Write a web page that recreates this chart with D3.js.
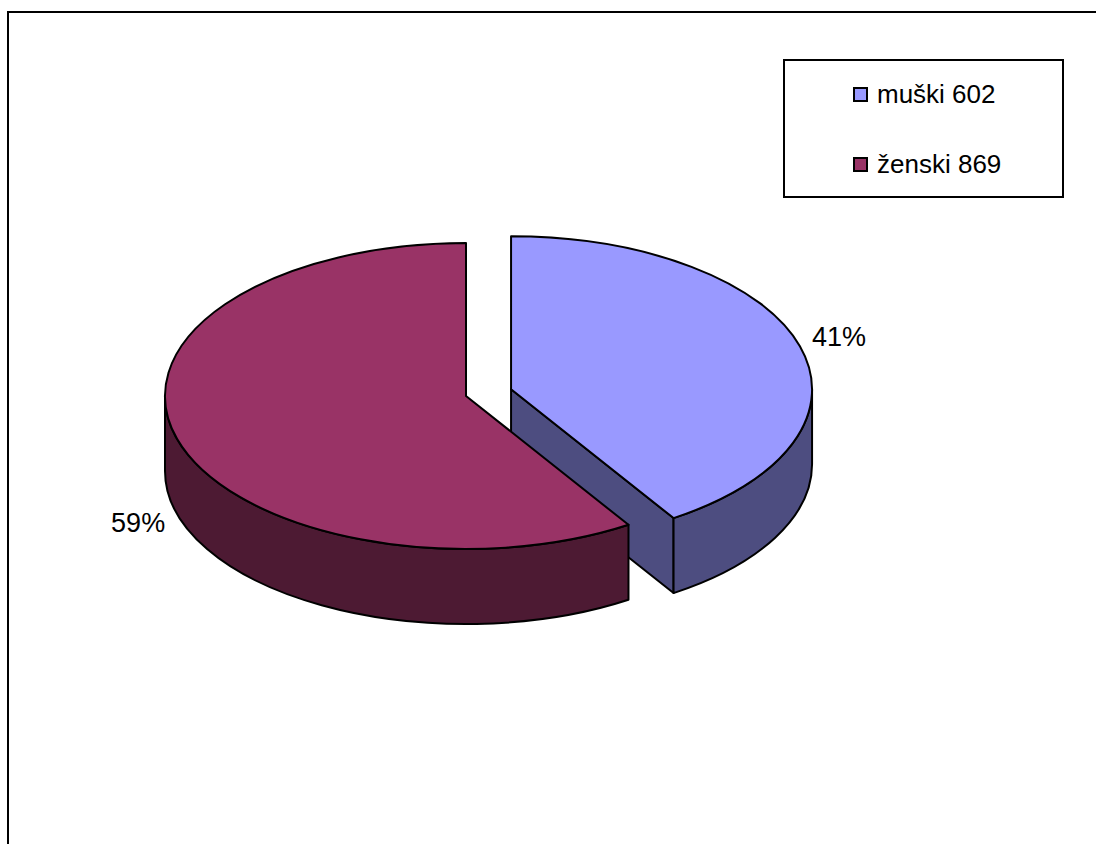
<!DOCTYPE html>
<html lang="hr">
  <head>
    <meta charset="utf-8">
    <title>Pie 3D</title>
    <script src="https://d3js.org/d3.v7.min.js"></script>
    <style type="text/css">
      body {
        margin: 0;
        background: #fff;
      }
      #svg {
        display: block;
      }
      text {
        font-family: "Liberation Sans", Arial, sans-serif;
        fill: #000;
      }
    </style>
  </head>
  <body>
    <div id="chart"></div>
  </body>
</html>
<script type="text/javascript">
  // data
  const labels = ["muški", "ženski"];
  const values = [602, 869];
  const topColors = ["#9999ff", "#993366"];
  const sideColors = ["#4d4d80", "#4d1a33"];
  const exploded = [true, false];

  const width = 1096,
    height = 844;

  // pie geometry (ellipse seen from above at a tilt)
  const cx = 466, cy = 396,
    rx = 301, ry = 153,
    depth = 75,
    explode = 0.156;

  const svg = d3.select("#chart").append("svg")
    .attr("id", "svg")
    .attr("width", width)
    .attr("height", height);

  // outer frame (runs off the page right and bottom)
  svg.append("rect")
    .attr("x", 8).attr("y", 12)
    .attr("width", 1300).attr("height", 1000)
    .attr("fill", "none")
    .attr("stroke", "#000")
    .attr("stroke-width", 2);

  const total = d3.sum(values);
  const pct = d3.format(".0%");

  const pie = d3.pie().sort(null);
  const arcs = pie(values);

  function pt(c, a, dy) {
    return [c[0] + rx * Math.sin(a), c[1] - ry * Math.cos(a) + (dy || 0)];
  }

  // center of each slice, moved out along the mid angle if exploded
  arcs.forEach(function(d, i) {
    const mid = (d.startAngle + d.endAngle) / 2;
    d.mid = mid;
    const k = exploded[i] ? explode : 0;
    d.c = [cx + k * rx * Math.sin(mid), cy - k * ry * Math.cos(mid)];
  });

  function topPath(d) {
    const p0 = pt(d.c, d.startAngle), p1 = pt(d.c, d.endAngle);
    const large = d.endAngle - d.startAngle > Math.PI ? 1 : 0;
    return "M" + d.c + "L" + p0 + "A" + rx + "," + ry + " 0 " + large + " 1 " + p1 + "Z";
  }

  // outer wall, only the front half (angles PI/2 .. 3PI/2) is seen
  function wallPath(d) {
    const b0 = Math.max(d.startAngle, Math.PI / 2),
      b1 = Math.min(d.endAngle, 3 * Math.PI / 2);
    if (b1 <= b0) return null;
    const p0 = pt(d.c, b0), p1 = pt(d.c, b1),
      q1 = pt(d.c, b1, depth), q0 = pt(d.c, b0, depth);
    const large = b1 - b0 > Math.PI ? 1 : 0;
    return "M" + p0 + "A" + rx + "," + ry + " 0 " + large + " 1 " + p1 +
      "L" + q1 + "A" + rx + "," + ry + " 0 " + large + " 0 " + q0 + "Z";
  }

  // cut face at the end angle (faces the viewer when it points down-left)
  function facePath(a, c) {
    const p = pt(c, a);
    return "M" + c + "L" + p + "L" + [p[0], p[1] + depth] + "L" + [c[0], c[1] + depth] + "Z";
  }

  const g = svg.append("g")
    .attr("stroke", "#000")
    .attr("stroke-width", 2)
    .attr("stroke-linejoin", "round");

  // draw the exploded (back) slice first
  const order = d3.range(arcs.length)
    .sort(function(a, b) { return (exploded[b] ? 1 : 0) - (exploded[a] ? 1 : 0); });

  order.forEach(function(i) {
    const d = arcs[i];
    const s = g.append("g");
    const e = d.endAngle;
    if (e > Math.PI / 2 && e < 3 * Math.PI / 2) {
      s.append("path").attr("d", facePath(e, d.c)).attr("fill", sideColors[i]);
    }
    const w = wallPath(d);
    if (w) s.append("path").attr("d", w).attr("fill", sideColors[i]);
    s.append("path").attr("d", topPath(d)).attr("fill", topColors[i]);
  });

  // percentage labels
  arcs.forEach(function(d, i) {
    const p = pt(d.c, d.mid);
    const right = Math.sin(d.mid) > 0;
    const front = Math.cos(d.mid) < 0;
    svg.append("text")
      .attr("x", p[0] + (right ? 12 : -12))
      .attr("y", p[1] + (front ? depth + 18 : 0))
      .attr("text-anchor", right ? "start" : "end")
      .style("font-size", "27px")
      .text(pct(values[i] / total));
  });

  // legend
  const legend = svg.append("g").attr("transform", "translate(784,60)");
  legend.append("rect")
    .attr("width", 279).attr("height", 137)
    .attr("fill", "#fff")
    .attr("stroke", "#000")
    .attr("stroke-width", 2);

  const item = legend.selectAll(".item")
    .data(labels)
    .enter().append("g")
    .attr("class", "item")
    .attr("transform", function(d, i) { return "translate(70," + (28 + i * 70) + ")"; });

  item.append("rect")
    .attr("width", 13).attr("height", 13)
    .attr("fill", function(d, i) { return topColors[i]; })
    .attr("stroke", "#000")
    .attr("stroke-width", 2);

  item.append("text")
    .attr("x", 23)
    .attr("y", 15)
    .style("font-size", "26px")
    .text(function(d, i) { return d + " " + values[i]; });
</script>
